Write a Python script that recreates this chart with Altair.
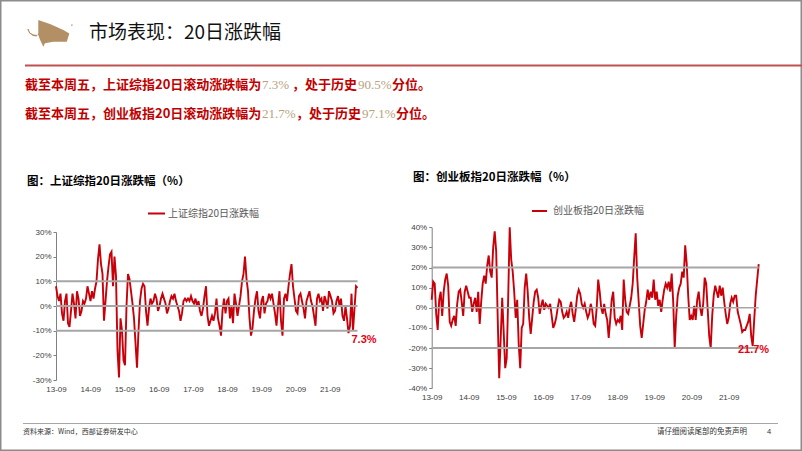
import altair as alt
import pandas as pd

W, H = 802, 451

# ---------------- text content ----------------
page_title = "市场表现：20日涨跌幅"
line1 = ["截至本周五，上证综指20日滚动涨跌幅为", "7.3%", "，处于历史", "90.5%", "分位。"]
line2 = ["截至本周五，创业板指20日滚动涨跌幅为", "21.7%", "，处于历史", "97.1%", "分位。"]
left_title = "图：上证综指20日涨跌幅（%）"
right_title = "图：创业板指20日涨跌幅（%）"
left_legend = "上证综指20日涨跌幅"
right_legend = "创业板指20日涨跌幅"
left_last = "7.3%"
right_last = "21.7%"
source_text = "资料来源：Wind，西部证券研发中心"
disclaimer_text = "请仔细阅读尾部的免责声明"
page_no = "4"

# ---------------- data ----------------
start_date = (2013, 9, 1)
end_date = (2022, 6, 24)
tick_years = list(range(2013, 2022))

sh_vals = [8, 4, 2, 5, -3, -6, 2, 5, -7, -8.5, -2, 5, 1, -5, 6, 3, -4, -2, 2, 1, 3, 8, 5, 2, 6, 3, 7,
           10, 19, 25, 17, 13, -6, 2, 10, 16, 21, 22,
           8, 20, 12, -18, -29, -5, -10, -22, -24, 0, 13, 11, 6, 1, -5, -15, -25, -10, 2, 7, 9,
           8, -2, -8, -1, 3, 1, 2, 5, 3, -2, 0, 3, 5, 3, 1, -3, -1, 2, 4, 3, 5, 2, 0, -2, -6,
           -3, 2, 3, 2, 3, 2, 4, 2, 1, 3, 0, 2, -2, -4, -1, 4, 8, -4, -8,
           -6, -4, -6, -3, 3, -5, -8, -12, -2, 3, -3, 2, 3, -5, 0, -7, 5, 1, -4, 0,
           4, 10, 13, 20, 11, 6, -5, -12, -9, -2, 3, 6, -2, -5, 2, 4, -3, 1, 2, 5,
           3, 5, 1, -3, -8, 0, 6, -6, -12, 3, 5, 2, 8, 13, 17, 8, 3, -2, -3, 4,
           5, 2, -1, -5, 2, 4, 6, 2, 0, -4, -8, 3, 5, 2, 3, -2, 4, 2, -1, 6,
           4, 2, -3, -2, 2, 4, 0, 3, -4, -6, 0, -5, -11, -8, 5, -10, -1, 8, 7.3]

cy_vals = [4, 13, 12, -3, -11, 4, 8, -4, 8, 14, 17, 11, -7, -9, -6, -4, -9, 2, 8, 9,
           3, -4, 8, 11, 8, 5, 5, -2, 2, 5, -2, 8, -8, 3, 12, 16, 12, 21, 26, 18,
           15, 30, 38, 28, -5, -35, -15, 5, -12, -30, -25, 5, 40, 24, 18, 8, -5, 4, -18, -30,
           -10, -8, 10, 17, 8, -5, -13, -5, 3, 8, 9, 5, -3, 1, 4, -1, 2, 1, 0, 2,
           -4, -10, -8, -5, 0, 4, 3, -2, -5, -4, -2, -5, 0, 3, -3, -7, -1, 6, 9, 7,
           2, 0, 2, -2, -5, -3, 2, -1, -8,
           -9, 0, 14, 8, 0, -3, 2, -3, -6, -15, -6, 4, 8, -5, -8, -6, -7, -4, -11, 14,
           4, -2, -3, 1, 5, 12, 25, 37, 15, 3, -9, -15, -8, -1, 3, 9, 4, 8, 5, 14,
           4, 8, 1, 4, -2, 4, 9, 12, 10, 13, 8, 17, 3, -20, -4, 6, 10, 12, 18, 15,
           31, 22, 6, -6, -4, -6, 1, -6, 4, 8, 0, -4, 2, 15, 12, -1, -14, -20, -4, 6,
           11, 8, 5, 11, 6, 10, 3, -3, -8, -5, 2, 5, 3, 6, 6, -2, -5, -8, -12, -11,
           -11, -9, -7, -3, -14, -19, -6, 6, 14, 21.7]

sh_ticks = [-30, -20, -10, 0, 10, 20, 30]
cy_ticks = [-40, -30, -20, -10, 0, 10, 20, 30, 40]
sh_bands = [10, -10]
cy_bands = [20, -20]
zero_band = [0]

# ---------------- styles ----------------
RED = "#c8000a"
GRAY = "#a6a6a6"
TAN = "#b8a27e"
TXT_RED = "#c00000"
CJK = "Noto Sans CJK SC"
LAT = "Liberation Sans"
SERIF = "Liberation Serif"

BLANK = pd.DataFrame({"k": [0]})


def dt(t):
    return alt.DateTime(year=t[0], month=t[1], date=t[2])


def txt(s, x, y, size, color="#000000", weight="normal", font=CJK, align="left"):
    return alt.Chart(BLANK).mark_text(
        text=s, align=align, baseline="middle", font=font, fontSize=size,
        fontWeight=weight, color=color
    ).encode(x=alt.value(x), y=alt.value(y))


def hrule(x1, x2, y, color, width):
    return alt.Chart(BLANK).mark_rule(color=color, strokeWidth=width).encode(
        x=alt.value(x1), x2=alt.value(x2), y=alt.value(y))


def panel(vals, ticks, bands, xr, yr, xaxis_y, zero_w):
    dates = pd.date_range(pd.Timestamp(*start_date), pd.Timestamp(*end_date), periods=len(vals))
    df = pd.DataFrame({"date": dates, "v": vals})
    xs = alt.Scale(domain=[dt(start_date), dt(end_date)], range=xr)
    ys = alt.Scale(domain=[ticks[0], ticks[-1]], range=yr, nice=False, zero=False)
    xaxis = alt.Axis(orient="bottom", offset=xaxis_y - H,
                     values=[alt.DateTime(year=y, month=9, date=1) for y in tick_years],
                     format="%y-%m", labelFlush=False, labelOverlap=False, domain=False,
                     ticks=False, tickSize=0, labelPadding=4, labelFontSize=8, labelFont=LAT,
                     labelColor="#404040", title=None, grid=False)
    yaxis = alt.Axis(orient="left", offset=-xr[0], values=ticks, labelExpr="datum.value + '%'",
                     domainColor="#808080", tickColor="#808080", tickSize=3, labelPadding=2,
                     labelFontSize=8, labelFont=LAT, labelColor="#404040", title=None, grid=False)
    line = alt.Chart(df).mark_line(color=RED, strokeWidth=1.9, strokeJoin="miter").encode(
        x=alt.X("date:T", scale=xs, axis=xaxis),
        y=alt.Y("v:Q", scale=ys, axis=yaxis))
    d0, d1 = dates[0], dates[-1]
    bdf = pd.DataFrame({"v": bands, "d0": [d0] * len(bands), "d1": [d1] * len(bands)})
    zdf = pd.DataFrame({"v": zero_band, "d0": [d0], "d1": [d1]})
    outer = alt.Chart(bdf).mark_rule(color=GRAY, strokeWidth=2).encode(
        x=alt.X("d0:T", scale=xs, axis=None), x2="d1:T",
        y=alt.Y("v:Q", scale=ys, axis=None))
    zero = alt.Chart(zdf).mark_rule(color=GRAY, strokeWidth=zero_w).encode(
        x=alt.X("d0:T", scale=xs, axis=None), x2="d1:T",
        y=alt.Y("v:Q", scale=ys, axis=None))
    return [line, outer, zero]


BULL = ("M-0.51,-0.52 L-0.29,-0.45 L0,-0.35 L0.58,-0.09 L0.84,0.06 L0.78,0.26 L0.73,0.42 "
        "L0.14,0.42 L-0.22,0.49 L-0.29,0.64 L-0.43,0.35 L-0.51,0.13 L-0.54,0.13 L-0.72,0.11 "
        "L-0.87,0.02 L-0.93,-0.13 L-0.99,-0.13 L-0.91,0.04 L-0.74,0.17 L-0.58,0.2 L-0.51,0.06 Z "
        "M0.92,-0.33 L0.98,-0.33 L0.98,-0.27 L0.92,-0.27 Z")

layers = []
# frame
layers.append(alt.Chart(BLANK).mark_rect(fillOpacity=0, stroke="#8c8c8c", strokeWidth=1.5).encode(
    x=alt.value(0.75), x2=alt.value(801.25), y=alt.value(0.75), y2=alt.value(450.25)))
# logo + title
layers.append(alt.Chart(BLANK).mark_point(shape=BULL, size=2116, filled=True, opacity=1,
                                          color="#b38f66", strokeWidth=0).encode(
    x=alt.value(50), y=alt.value(32)))
layers.append(txt(page_title, 89, 33, 19, "#111111"))
layers.append(hrule(25, 802, 65.5, "#c0504d", 2))

# summary lines
seg_x1 = [25, 262, 292, 358, 392]
seg_x2 = [25, 262, 296, 362, 396]
for segs, xs_, yy in [(line1, seg_x1, 85), (line2, seg_x2, 114)]:
    for j, (s, xx) in enumerate(zip(segs, xs_)):
        if j % 2 == 1:
            layers.append(txt(s, xx, yy, 13, TAN, "normal", SERIF))
        else:
            layers.append(txt(s, xx, yy, 13, TXT_RED, "bold"))

# chart titles and legends
layers.append(txt(left_title, 27, 181.5, 11.5, "#000000", "bold"))
layers.append(txt(right_title, 413, 178, 11.5, "#000000", "bold"))
layers.append(hrule(148, 165, 213.5, RED, 2))
layers.append(txt(left_legend, 168, 213.5, 10, "#595959"))
layers.append(hrule(532, 547, 211, RED, 2))
layers.append(txt(right_legend, 553, 211, 10, "#595959"))

# panels
layers += panel(sh_vals, sh_ticks, sh_bands, [56, 357.5], [380, 232], 381, 2)
layers += panel(cy_vals, cy_ticks, cy_bands, [431.7, 758.7], [388.3, 227.3], 389, 1.5)

layers.append(txt(left_last, 364, 340, 11, "#e60012", "bold", LAT, "center"))
layers.append(txt(right_last, 753.5, 349.5, 11, "#e60012", "bold", LAT, "center"))

# footer
layers.append(hrule(23, 778, 423.5, "#a6a6a6", 1))
layers.append(txt(source_text, 23, 432, 7, "#333333"))
layers.append(txt(disclaimer_text, 657, 432, 7.5, "#333333"))
layers.append(txt(page_no, 767, 432, 7.5, "#333333", "normal", LAT))

chart = alt.layer(*layers).resolve_scale(
    x="independent", y="independent"
).properties(
    width=W, height=H, autosize=alt.AutoSizeParams(type="none"), padding=0, background="white"
).configure_view(strokeWidth=0)

chart.save("out.html", embed_options={"renderer": "svg", "actions": False})
